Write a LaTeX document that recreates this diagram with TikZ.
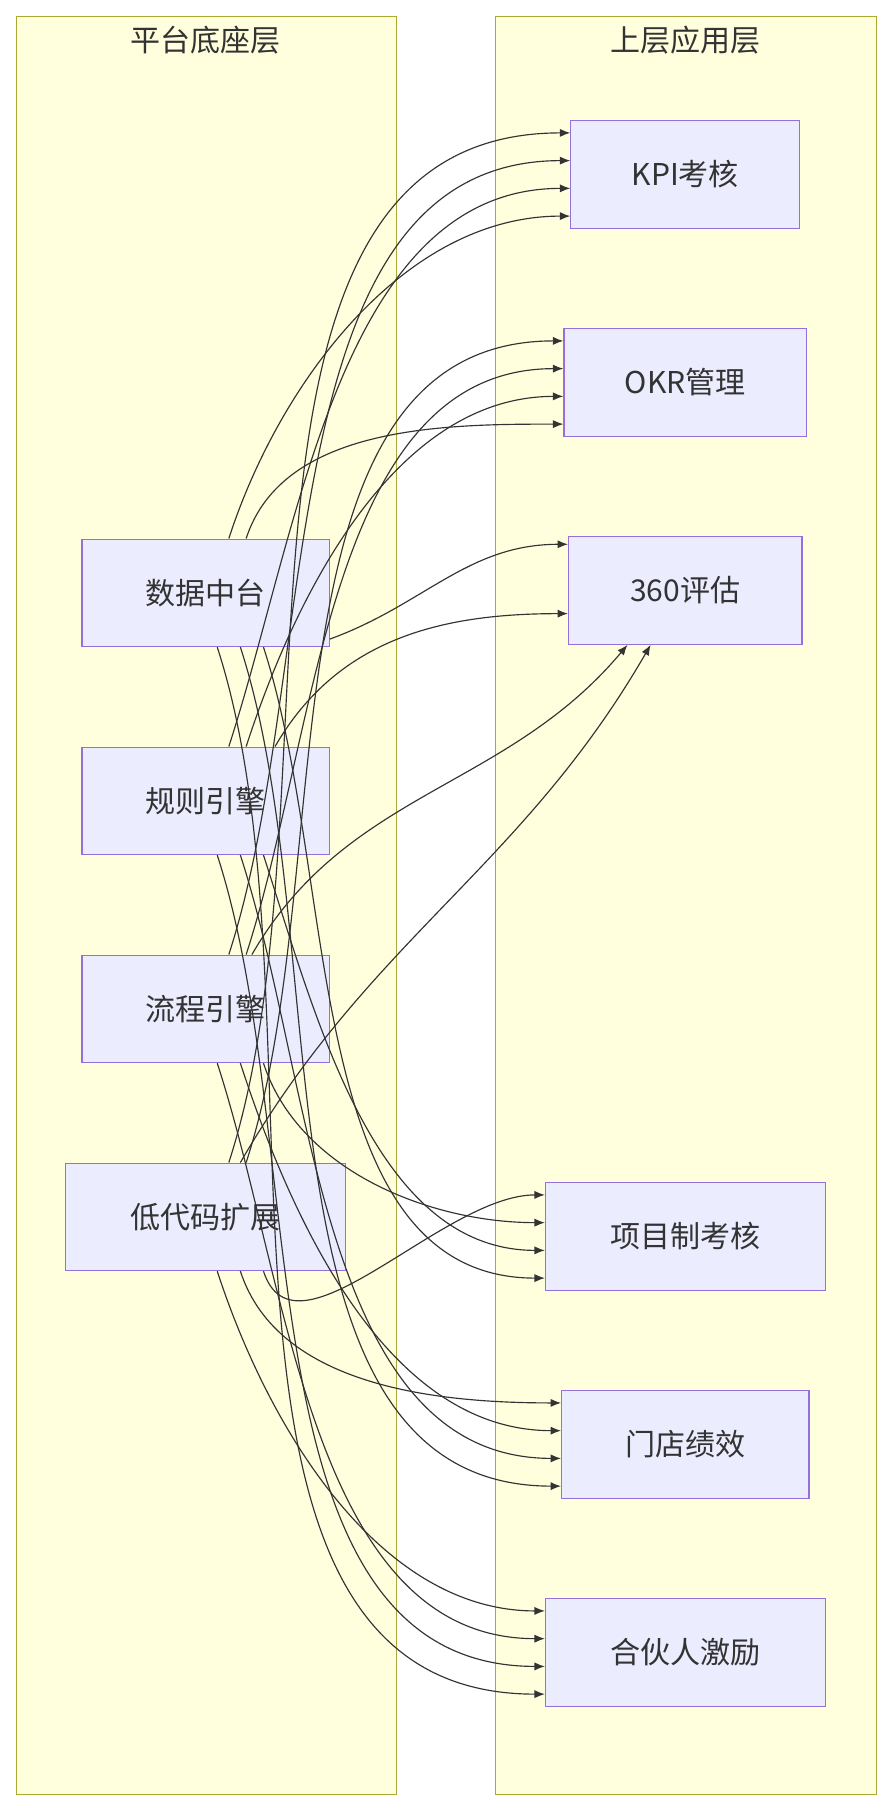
\documentclass[tikz,border=0pt]{standalone}
\usepackage{fontspec}
\setmainfont{Noto Sans CJK SC}
\usetikzlibrary{arrows.meta}
\definecolor{cfill}{HTML}{FFFFDE}
\definecolor{cline}{HTML}{AAAA33}
\definecolor{nfill}{HTML}{ECECFF}
\definecolor{nline}{HTML}{9370DB}
\definecolor{ink}{HTML}{333333}
\begin{document}
\begin{tikzpicture}[x=1pt,y=-1pt,
  cluster/.style={draw=cline,fill=cfill,line width=0.8pt},
  ctitle/.style={font=\fontsize{26}{30}\selectfont,text=ink},
  box/.style={draw=nline,fill=nfill,line width=1pt,font=\fontsize{26}{30}\selectfont,text=ink,inner sep=0pt},
  edge/.style={draw=ink,line width=1pt,-{Latex[length=9pt,width=7pt]}}]
\useasboundingbox (0,0) rectangle (770,1568);
\fill[white] (0,0) rectangle (770,1568);
\draw[cluster] (14,14) rectangle (343,1553);
\draw[cluster] (429,14) rectangle (758,1553);
\node[ctitle] (tl) at (178,35) {平台底座层};
\node[ctitle] (tr) at (593,35) {上层应用层};
\node[box,minimum width=214,minimum height=93] (d) at (178,513) {数据中台};
\node[box,minimum width=214,minimum height=93] (r) at (178,693) {规则引擎};
\node[box,minimum width=214,minimum height=93] (f) at (178,873) {流程引擎};
\node[box,minimum width=242,minimum height=93] (l) at (178,1053) {低代码扩展};
\node[box,minimum width=198,minimum height=93] (k) at (593,151) {KPI考核};
\node[box,minimum width=210,minimum height=93] (o) at (593,331) {OKR管理};
\node[box,minimum width=202,minimum height=93] (e) at (593,511) {360评估};
\node[box,minimum width=242,minimum height=93] (p) at (593,1070) {项目制考核};
\node[box,minimum width=214,minimum height=93] (m) at (593,1250) {门店绩效};
\node[box,minimum width=242,minimum height=93] (h) at (593,1430) {合伙人激励};
\foreach \s/\ey in {d/-36,r/-12,f/12,l/36}{
  \foreach \t/\dx in {k/20,o/35}{
    \draw[edge] ([xshift=\dx]\s.north) to[out=72,in=180,looseness=0.9] ([yshift=\ey]\t.west);
  }
  \foreach \t/\dx in {p/50,m/30,h/10}{
    \draw[edge] ([xshift=\dx]\s.south) to[out=-72,in=180,looseness=0.9] ([yshift=\ey]\t.west);
  }
}
\draw[edge] ([yshift=-40]d.east) to[out=20,in=180] ([yshift=40]e.west);
\draw[edge] ([xshift=60]r.north) to[out=60,in=180] ([yshift=-20]e.west);
\draw[edge] ([xshift=40]f.north) to[out=60,in=-130] ([xshift=-50]e.south);
\draw[edge] ([xshift=30]l.north) to[out=60,in=-120] ([xshift=-30]e.south);
\end{tikzpicture}
\end{document}
